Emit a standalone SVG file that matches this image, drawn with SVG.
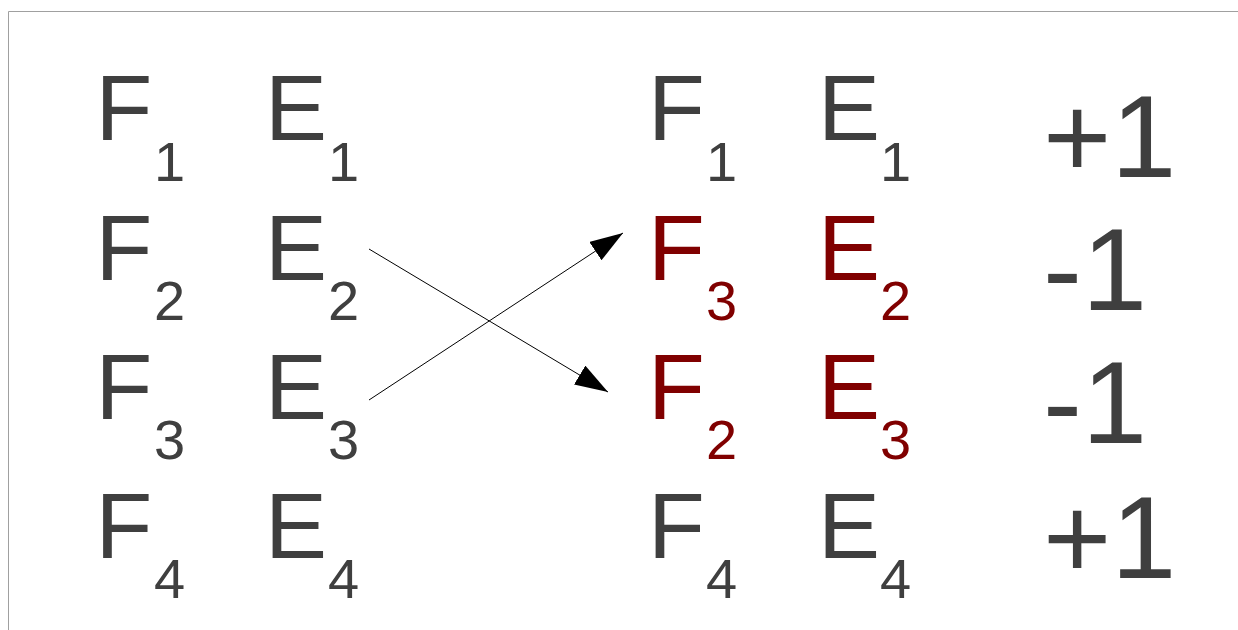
<svg xmlns="http://www.w3.org/2000/svg" width="1238" height="630" viewBox="0 0 1238 630">
<style>
.m{font-family:"Liberation Sans",Arial,sans-serif;font-size:93px;fill:#3f3f3f}
.s{font-family:"Liberation Sans",Arial,sans-serif;font-size:56px;fill:#3f3f3f}
.r{fill:#800000}
.v{font-family:"Liberation Sans",Arial,sans-serif;font-size:117px;fill:#3f3f3f}
.c{stroke:#000;stroke-width:1;fill:none}
</style>
<defs>
<marker id="ah" markerUnits="userSpaceOnUse" markerWidth="34" markerHeight="24" refX="33" refY="11" orient="auto">
<path d="M0,0 L33,11 L0,22 Z" fill="#000"/>
</marker>
</defs>
<rect width="1238" height="630" fill="#fff"/>
<path d="M8.5,630 V11.5 H1238" fill="none" stroke="#a0a0a0" stroke-width="1"/>
<g id="left">
<g id="lF1"><text class="m" x="95.4" y="140">F</text><text class="s" x="154" y="181">1</text></g>
<g id="lE1"><text class="m" x="265" y="140">E</text><text class="s" x="328" y="181">1</text></g>
<g id="lF2"><text class="m" x="95.4" y="280">F</text><text class="s" x="154" y="320">2</text></g>
<g id="lE2"><text class="m" x="265" y="280">E</text><text class="s" x="328" y="320">2</text></g>
<g id="lF3"><text class="m" x="95.4" y="419">F</text><text class="s" x="154" y="459">3</text></g>
<g id="lE3"><text class="m" x="265" y="419">E</text><text class="s" x="328" y="459">3</text></g>
<g id="lF4"><text class="m" x="95.4" y="558">F</text><text class="s" x="154" y="598">4</text></g>
<g id="lE4"><text class="m" x="265" y="558">E</text><text class="s" x="328" y="598">4</text></g>
</g>
<g id="right">
<g id="rF1"><text class="m" x="648" y="140">F</text><text class="s" x="706" y="181">1</text></g>
<g id="rE1"><text class="m" x="818" y="140">E</text><text class="s" x="880" y="181">1</text></g>
<g id="rF3"><text class="m r" x="648" y="280">F</text><text class="s r" x="706" y="320">3</text></g>
<g id="rE2"><text class="m r" x="818" y="280">E</text><text class="s r" x="880" y="320">2</text></g>
<g id="rF2"><text class="m r" x="648" y="419">F</text><text class="s r" x="706" y="459">2</text></g>
<g id="rE3"><text class="m r" x="818" y="419">E</text><text class="s r" x="880" y="459">3</text></g>
<g id="rF4"><text class="m" x="648" y="558">F</text><text class="s" x="706" y="598">4</text></g>
<g id="rE4"><text class="m" x="818" y="558">E</text><text class="s" x="880" y="598">4</text></g>
</g>
<g id="values">
<text id="v1" class="v" x="1043" y="177">+1</text>
<text id="v2" class="v" x="1043" y="310">-1</text>
<text id="v3" class="v" x="1043" y="443">-1</text>
<text id="v4" class="v" x="1043" y="578">+1</text>
</g>
<g id="connectors">
<line class="c" x1="369" y1="249" x2="608" y2="392" marker-end="url(#ah)"/>
<line class="c" x1="369" y1="400" x2="623" y2="233" marker-end="url(#ah)"/>
</g>
</svg>
